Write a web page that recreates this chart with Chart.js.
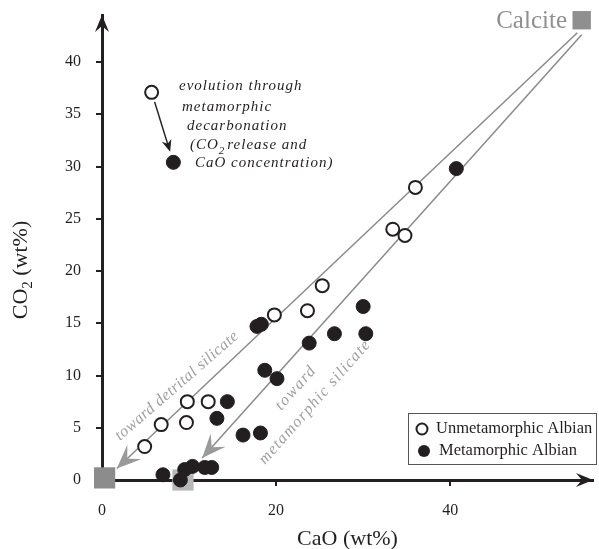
<!DOCTYPE html>
<html>
<head>
<meta charset="utf-8">
<script src="https://cdn.jsdelivr.net/npm/chart.js@4.4.1/dist/chart.umd.min.js"></script>
<style>
  body { margin: 0; background: #fff; }
  canvas { display: block; }
</style>
</head>
<body>
<canvas id="chart" width="599" height="549"></canvas>
<script>
// Unmetamorphic Albian (open circles)
const unmetCaO = [4.9, 6.8, 9.7, 9.8, 12.2, 19.8, 23.6, 25.3, 33.4, 34.8, 36.0];
const unmetCO2 = [3.2, 5.3, 5.5, 7.5, 7.5, 15.8, 16.2, 18.6, 24.0, 23.4, 28.0];

// Metamorphic Albian (filled circles)
const metCaO = [7.0, 9.0, 9.5, 10.4, 11.8, 12.6, 13.2, 14.4, 16.2, 18.2, 17.8, 18.3, 18.7, 20.1, 23.8, 26.7, 30.0, 30.3, 40.7];
const metCO2 = [0.5, 0.0, 1.0, 1.3, 1.2, 1.2, 5.9, 7.5, 4.3, 4.5, 14.7, 14.9, 10.5, 9.7, 13.1, 14.0, 16.6, 14.0, 29.8];

// end members [CaO, CO2]
const calcite = [55.1, 44.0];
const detritalSilicate = [0.3, 0.2];
const metamorphicSilicate = [9.3, 0.0];

// trend lines (start near calcite, end at arrow tip)
const detritalTrendCaO = [54.6, 1.7];
const detritalTrendCO2 = [42.8, 1.1];
const metaTrendCaO = [55.1, 11.5];
const metaTrendCO2 = [42.6, 2.1];

// key example: unmetamorphic -> metamorphic
const exampleUnmet = [5.7, 37.1];
const exampleMet = [8.2, 30.4];

const xTicks = [0, 20, 40];
const yTicks = [0, 5, 10, 15, 20, 25, 30, 35, 40];

const INK = '#231f20';
const SERIF = '"Liberation Serif", "Times New Roman", serif';

function zip(xs, ys) {
    return xs.map((v, i) => ({ x: v, y: ys[i] }));
}

function arrowHead(ctx, tx, ty, angle, len, half, notch, color) {
    ctx.save();
    ctx.translate(tx, ty);
    ctx.rotate(angle);
    ctx.beginPath();
    ctx.moveTo(0, 0);
    ctx.lineTo(-len, -half);
    ctx.lineTo(-len * notch, 0);
    ctx.lineTo(-len, half);
    ctx.closePath();
    ctx.fillStyle = color;
    ctx.fill();
    ctx.restore();
}

function rotatedText(ctx, text, cx, cy, angleDeg, font, spacing, color) {
    ctx.save();
    ctx.translate(cx, cy);
    ctx.rotate(angleDeg * Math.PI / 180);
    ctx.font = font;
    ctx.letterSpacing = spacing;
    ctx.fillStyle = color;
    ctx.textAlign = 'center';
    ctx.textBaseline = 'middle';
    ctx.fillText(text, 0, 0);
    ctx.restore();
}

function noPadding(s) {
    s.paddingTop = 0;
    s.paddingBottom = 0;
    s.paddingLeft = 0;
    s.paddingRight = 0;
}

const overlay = {
    id: 'overlay',
    afterDatasetsDraw(chart) {
        const ctx = chart.ctx;
        const x = chart.scales.x, y = chart.scales.y;
        const area = chart.chartArea;
        ctx.save();

        // axis arrows
        arrowHead(ctx, area.left, area.top, -Math.PI / 2, 17, 7, 0.65, INK);
        arrowHead(ctx, area.right, area.bottom, 0, 17, 7, 0.65, INK);

        // trend arrowheads
        [[detritalTrendCaO, detritalTrendCO2], [metaTrendCaO, metaTrendCO2]].forEach(([cx, cy]) => {
            const x0 = x.getPixelForValue(cx[0]), y0 = y.getPixelForValue(cy[0]);
            const x1 = x.getPixelForValue(cx[1]), y1 = y.getPixelForValue(cy[1]);
            arrowHead(ctx, x1, y1, Math.atan2(y1 - y0, x1 - x0), 24, 10, 0.6, '#9a9a9a');
        });

        // example arrow
        const ax0 = x.getPixelForValue(exampleUnmet[0]), ay0 = y.getPixelForValue(exampleUnmet[1]);
        const ax1 = x.getPixelForValue(exampleMet[0]), ay1 = y.getPixelForValue(exampleMet[1]);
        const ang = Math.atan2(ay1 - ay0, ax1 - ax0);
        const sx = ax0 + Math.cos(ang) * 10, sy = ay0 + Math.sin(ang) * 10;
        const ex = ax1 - Math.cos(ang) * 11, ey = ay1 - Math.sin(ang) * 11;
        ctx.beginPath();
        ctx.moveTo(sx, sy);
        ctx.lineTo(ex - Math.cos(ang) * 6, ey - Math.sin(ang) * 6);
        ctx.strokeStyle = INK;
        ctx.lineWidth = 1.5;
        ctx.stroke();
        arrowHead(ctx, ex, ey, ang, 12, 5, 0.7, INK);

        // annotation text
        ctx.fillStyle = INK;
        ctx.textAlign = 'left';
        ctx.textBaseline = 'middle';
        ctx.font = 'italic 15px ' + SERIF;
        ctx.letterSpacing = '1px';
        ctx.fillText('evolution through', 179, 86);
        ctx.fillText('metamorphic', 182, 107);
        ctx.fillText('decarbonation', 187, 126);
        let tx = 190;
        ctx.fillText('(CO', tx, 145);
        tx += ctx.measureText('(CO').width;
        ctx.font = 'italic 11px ' + SERIF;
        ctx.fillText('2', tx, 151);
        tx += ctx.measureText('2').width + 2;
        ctx.font = 'italic 15px ' + SERIF;
        ctx.fillText('release and', tx, 145);
        ctx.fillText('CaO concentration)', 195, 163);

        // trend labels
        const grayFont = 'italic 16px ' + SERIF;
        rotatedText(ctx, 'toward detrital silicate', 177, 386, -41, grayFont, '0.5px', '#a0a0a0');
        rotatedText(ctx, 'toward', 296, 388, -48.5, grayFont, '1.5px', '#a0a0a0');
        rotatedText(ctx, 'metamorphic silicate', 315, 402, -48.5, grayFont, '1.3px', '#a0a0a0');

        // Calcite label
        ctx.letterSpacing = '0px';
        ctx.font = '25px ' + SERIF;
        ctx.fillStyle = '#8f8f8f';
        ctx.textAlign = 'right';
        ctx.textBaseline = 'alphabetic';
        ctx.fillText('Calcite', 567, 28);

        // axis titles
        ctx.fillStyle = INK;
        ctx.font = '22px ' + SERIF;
        ctx.textAlign = 'center';
        ctx.fillText('CaO (wt%)', (area.left + area.right) / 2, 545);

        ctx.save();
        ctx.translate(27, 270);
        ctx.rotate(-Math.PI / 2);
        ctx.textAlign = 'left';
        ctx.font = '22px ' + SERIF;
        const w1 = ctx.measureText('CO').width;
        const w3 = ctx.measureText(' (wt%)').width;
        ctx.font = '15px ' + SERIF;
        const w2 = ctx.measureText('2').width;
        let px = -(w1 + w2 + w3) / 2;
        ctx.font = '22px ' + SERIF;
        ctx.fillText('CO', px, 0);
        px += w1;
        ctx.font = '15px ' + SERIF;
        ctx.fillText('2', px, 5);
        px += w2;
        ctx.font = '22px ' + SERIF;
        ctx.fillText(' (wt%)', px, 0);
        ctx.restore();

        // legend
        ctx.strokeStyle = '#555';
        ctx.lineWidth = 1;
        ctx.strokeRect(408.5, 413.5, 188, 51);
        ctx.beginPath();
        ctx.arc(422, 429, 5.5, 0, Math.PI * 2);
        ctx.fillStyle = '#fff';
        ctx.fill();
        ctx.strokeStyle = INK;
        ctx.lineWidth = 2;
        ctx.stroke();
        ctx.beginPath();
        ctx.arc(424, 451, 6, 0, Math.PI * 2);
        ctx.fillStyle = INK;
        ctx.fill();
        ctx.font = '16.5px ' + SERIF;
        ctx.textAlign = 'left';
        ctx.textBaseline = 'middle';
        ctx.fillText('Unmetamorphic Albian', 436, 429);
        ctx.fillText('Metamorphic Albian', 439, 451);

        ctx.restore();
    }
};

const openStyle = { pointStyle: 'circle', pointRadius: 6.5, pointBackgroundColor: '#fff', pointBorderColor: INK, pointBorderWidth: 2 };
const fillStyle = { pointStyle: 'circle', pointRadius: 7, pointBackgroundColor: INK, pointBorderColor: INK, pointBorderWidth: 1 };

new Chart(document.getElementById('chart').getContext('2d'), {
    type: 'scatter',
    data: {
        datasets: [
            Object.assign({ label: 'Unmetamorphic Albian', data: zip(unmetCaO, unmetCO2), order: 1, clip: false }, openStyle),
            Object.assign({ label: 'Metamorphic Albian', data: zip(metCaO, metCO2), order: 2, clip: false }, fillStyle),
            Object.assign({ label: 'example unmetamorphic', data: [{ x: exampleUnmet[0], y: exampleUnmet[1] }], order: 1 }, openStyle),
            Object.assign({ label: 'example metamorphic', data: [{ x: exampleMet[0], y: exampleMet[1] }], order: 1 }, fillStyle),
            {
                label: 'Calcite', data: [{ x: calcite[0], y: calcite[1] }], order: 5, clip: false,
                pointStyle: 'rect', pointRadius: 13, pointBackgroundColor: '#8f8f8f', pointBorderWidth: 0
            },
            {
                label: 'detrital silicate', data: [{ x: detritalSilicate[0], y: detritalSilicate[1] }], order: 5, clip: false,
                pointStyle: 'rect', pointRadius: 15, pointBackgroundColor: '#8c8c8c', pointBorderWidth: 0
            },
            {
                label: 'metamorphic silicate', data: [{ x: metamorphicSilicate[0], y: metamorphicSilicate[1] }], order: 8, clip: false,
                pointStyle: 'rect', pointRadius: 15, pointBackgroundColor: '#b8b8b8', pointBorderWidth: 0
            },
            {
                label: 'toward detrital silicate', data: zip(detritalTrendCaO, detritalTrendCO2), order: 10,
                showLine: true, pointRadius: 0, borderColor: '#8a8a8a', borderWidth: 1.5
            },
            {
                label: 'toward metamorphic silicate', data: zip(metaTrendCaO, metaTrendCO2), order: 10,
                showLine: true, pointRadius: 0, borderColor: '#8a8a8a', borderWidth: 1.5
            }
        ]
    },
    options: {
        responsive: false,
        animation: false,
        layout: { autoPadding: false, padding: { left: 0, top: 15, right: 6, bottom: 0 } },
        plugins: { legend: { display: false }, tooltip: { enabled: false } },
        scales: {
            x: {
                type: 'linear', min: 0, max: 56.4,
                afterFit: s => { s.height = 69; noPadding(s); },
                afterBuildTicks: s => { s.ticks = xTicks.map(v => ({ value: v })); },
                ticks: { padding: 15, color: INK, font: { family: SERIF, size: 16 } },
                grid: { drawOnChartArea: false, drawTicks: true, tickLength: 6, color: INK, lineWidth: 2 },
                border: { display: true, color: INK, width: 3 }
            },
            y: {
                type: 'linear', min: 0, max: 44.5,
                afterFit: s => { s.width = 102; noPadding(s); },
                afterBuildTicks: s => { s.ticks = yTicks.map(v => ({ value: v })); },
                ticks: { padding: 15, color: INK, font: { family: SERIF, size: 16 } },
                grid: { drawOnChartArea: false, drawTicks: true, tickLength: 6, color: INK, lineWidth: 2 },
                border: { display: true, color: INK, width: 3 }
            }
        }
    },
    plugins: [overlay]
});
</script>
</body>
</html>
